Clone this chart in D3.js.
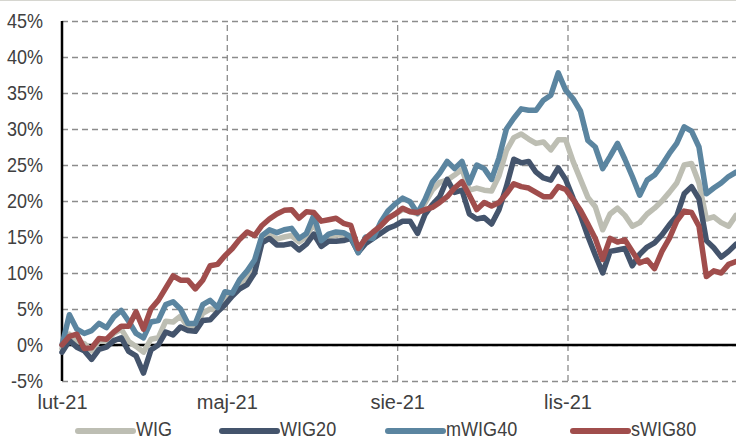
<!DOCTYPE html>
<html><head><meta charset="utf-8">
<script src="https://cdn.jsdelivr.net/npm/d3@7"></script>
<style>
html,body{margin:0;padding:0;background:#fff;}
svg{display:block;}
text{font-family:"Liberation Sans",Arial,sans-serif;fill:#404040;}
</style></head>
<body><svg id="chart" width="736" height="441"></svg>
<script>
const dates = ["2021-02-01","2021-02-05","2021-02-09","2021-02-13","2021-02-17","2021-02-21","2021-02-25","2021-03-01","2021-03-05","2021-03-09","2021-03-13","2021-03-17","2021-03-21","2021-03-25","2021-03-29","2021-04-02","2021-04-06","2021-04-10","2021-04-14","2021-04-18","2021-04-22","2021-04-26","2021-04-30","2021-05-04","2021-05-08","2021-05-12","2021-05-16","2021-05-20","2021-05-24","2021-05-28","2021-06-01","2021-06-05","2021-06-09","2021-06-13","2021-06-17","2021-06-21","2021-06-25","2021-06-29","2021-07-03","2021-07-07","2021-07-11","2021-07-15","2021-07-19","2021-07-23","2021-07-27","2021-07-31","2021-08-04","2021-08-08","2021-08-12","2021-08-16","2021-08-20","2021-08-24","2021-08-28","2021-09-01","2021-09-05","2021-09-09","2021-09-13","2021-09-17","2021-09-21","2021-09-25","2021-09-29","2021-10-03","2021-10-07","2021-10-11","2021-10-15","2021-10-19","2021-10-23","2021-10-27","2021-10-31","2021-11-04","2021-11-08","2021-11-12","2021-11-16","2021-11-20","2021-11-24","2021-11-28","2021-12-02","2021-12-06","2021-12-10","2021-12-14","2021-12-18","2021-12-22","2021-12-26","2021-12-30","2022-01-03","2022-01-07","2022-01-11","2022-01-15","2022-01-19","2022-01-23","2022-01-27","2022-01-31"];

const wig = [-0.5,1.5,0.5,0.2,-0.8,0.6,0.5,1.6,2.2,0.5,-0.2,-1.0,0.8,1.0,3.3,3.2,4.0,2.5,2.4,4.4,5.0,4.8,6.5,7.0,8.5,9.3,10.9,14.6,15.3,14.7,15.0,15.2,14.3,15.0,17.0,14.5,15.0,15.3,15.2,15.2,13.0,14.8,15.3,16.6,17.6,18.2,18.8,18.6,18.2,19.7,21.5,22.6,22.9,23.6,24.4,21.5,21.8,21.5,21.4,23.5,27.0,28.8,29.3,28.6,28.0,28.2,27.1,28.5,28.5,25.5,23.0,20.5,19.2,16.0,18.2,19.0,18.0,16.5,17.0,18.2,19.0,20.0,21.2,22.5,25.0,25.2,22.5,17.5,17.8,17.0,16.5,18.0];

const wig20 = [-1.0,0.6,-0.3,-0.8,-2.0,-0.6,-0.3,0.6,1.0,-0.9,-1.5,-3.9,-0.7,0.0,1.8,1.4,2.5,2.0,1.9,3.4,3.5,4.6,5.6,6.8,7.8,8.4,10.0,14.2,14.8,13.9,13.9,14.1,13.2,14.0,15.4,13.7,14.4,14.4,14.5,14.8,12.9,14.1,14.8,15.5,16.2,16.6,17.2,17.2,15.5,18.1,19.5,20.6,23.0,21.2,21.5,18.2,17.5,17.7,16.8,18.8,22.0,25.8,25.3,25.5,24.0,23.2,22.9,24.6,23.0,20.4,18.0,15.1,12.5,10.0,13.0,13.2,13.4,11.0,12.6,13.6,14.2,15.3,16.7,17.9,21.0,22.0,20.3,14.5,13.5,12.2,13.0,14.0];

const mwig40 = [0,4.2,2.2,1.6,2.0,3.0,2.4,3.9,4.8,3.3,1.6,1.0,3.2,3.4,5.6,6.0,5.0,3.0,3.0,5.6,6.2,5.2,7.4,7.2,9.1,10.3,11.8,15.2,16.0,15.6,16.0,16.2,14.8,15.5,18.0,14.5,15.4,15.7,15.6,15.0,12.8,15.0,14.8,17.0,18.6,19.6,20.4,19.9,18.3,20.2,22.6,23.9,25.5,24.5,25.5,22.5,25.0,24.5,23.0,26.0,30.0,31.5,32.8,32.6,32.6,34.0,34.7,37.8,35.4,34.2,32.5,28.4,27.5,24.5,26.2,28.0,25.8,23.4,20.8,22.9,23.6,25.0,26.6,28.0,30.3,29.7,27.5,21.0,21.8,22.5,23.4,24.0];

const swig80 = [0,1.2,1.5,-0.5,-0.4,0.9,0.8,1.8,2.6,2.6,4.6,2.2,5.0,6.2,7.9,9.6,9.0,9.0,7.8,9.0,11.0,11.2,12.4,13.4,14.7,15.7,15.2,16.6,17.5,18.2,18.7,18.8,17.6,18.5,18.4,17.2,17.4,17.6,16.9,16.6,13.4,14.8,15.7,16.5,17.6,18.2,19.0,18.5,18.4,18.8,19.1,19.8,20.6,21.8,22.7,20.8,18.8,19.8,19.3,19.8,21.0,22.4,22.0,21.8,21.2,20.6,20.6,22.0,21.6,20.2,18.7,16.8,14.8,11.9,14.8,14.3,14.6,13.0,11.4,11.8,10.6,13.0,14.8,17.2,18.6,18.4,16.5,9.5,10.3,10.0,11.2,11.6];

const seriesNames = ["WIG","WIG20","mWIG40","sWIG80"];
const seriesColors = ["#bdbeb3","#44546c","#5b85a0","#a04d4c"];
const yTicks = [-5,0,5,10,15,20,25,30,35,40,45];
const xTickDates = ["2021-02-01","2021-05-01","2021-08-01","2021-11-01"];
const xTickLabels = ["lut-21","maj-21","sie-21","lis-21"];

const parse = d3.timeParse("%Y-%m-%d");
const W = 736, H = 441;
const m = {left:62, right:736, top:21, bottom:381};
const svg = d3.select("#chart");

svg.append("rect").attr("x",0).attr("y",0).attr("width",W).attr("height",1).attr("fill","#d6d6d0");

const x = d3.scaleTime().domain([parse("2021-02-01"), parse("2022-01-31")]).range([m.left, m.right]);
const y = d3.scaleLinear().domain([-5,45]).range([m.bottom, m.top]);

const yAxis = d3.axisLeft(y).tickValues(yTicks).tickSize(-(m.right-m.left)).tickFormat(d => d + "%").tickPadding(19);
const gy = svg.append("g").attr("transform",`translate(${m.left},0)`).call(yAxis);
gy.select(".domain").remove();
gy.selectAll(".tick line").attr("stroke","#8c8c8c").attr("stroke-width",1.3).attr("stroke-dasharray","6,4");
gy.selectAll(".tick text").attr("font-size",20).attr("fill","#404040")
  .attr("transform","scale(0.9,1)").attr("x",-19/0.9);

const xAxis = d3.axisBottom(x).tickValues(xTickDates.map(parse)).tickSize(-(m.bottom-m.top)).tickFormat((d,i) => xTickLabels[i]).tickPadding(14);
const gx = svg.append("g").attr("transform",`translate(0,${m.bottom})`).call(xAxis);
gx.select(".domain").remove();
gx.selectAll(".tick line").attr("stroke","#8c8c8c").attr("stroke-width",1.3).attr("stroke-dasharray","6,4")
  .attr("opacity",(d,i)=> i===0 ? 0 : 1);
gx.selectAll(".tick text").attr("font-size",20).attr("fill","#404040");

svg.append("line").attr("x1",m.left).attr("x2",m.right).attr("y1",y(0)).attr("y2",y(0)).attr("stroke","#000").attr("stroke-width",2.5);
svg.append("line").attr("x1",m.left).attr("x2",m.left).attr("y1",m.top).attr("y2",m.bottom).attr("stroke","#000").attr("stroke-width",2.5);

const allSeries = [wig, wig20, mwig40, swig80];
const line = d3.line().x((d,i)=> x(parse(dates[i]))).y(d => y(d)).curve(d3.curveLinear);
allSeries.forEach((s,k) => {
  svg.append("path").datum(s).attr("d", line).attr("fill","none")
    .attr("stroke", seriesColors[k]).attr("stroke-width",5.5).attr("stroke-linejoin","round").attr("stroke-linecap","round");
});

const legX = [78, 222, 388, 573];
const leg = svg.append("g");
seriesNames.forEach((n,k) => {
  leg.append("line").attr("x1",legX[k]).attr("x2",legX[k]+55).attr("y1",431).attr("y2",431)
    .attr("stroke",seriesColors[k]).attr("stroke-width",6).attr("stroke-linecap","round");
  leg.append("text").attr("transform",`translate(${legX[k]+58},436) scale(0.86,1)`)
    .attr("font-size",21).attr("fill","#404040").text(n);
});
</script></body></html>
